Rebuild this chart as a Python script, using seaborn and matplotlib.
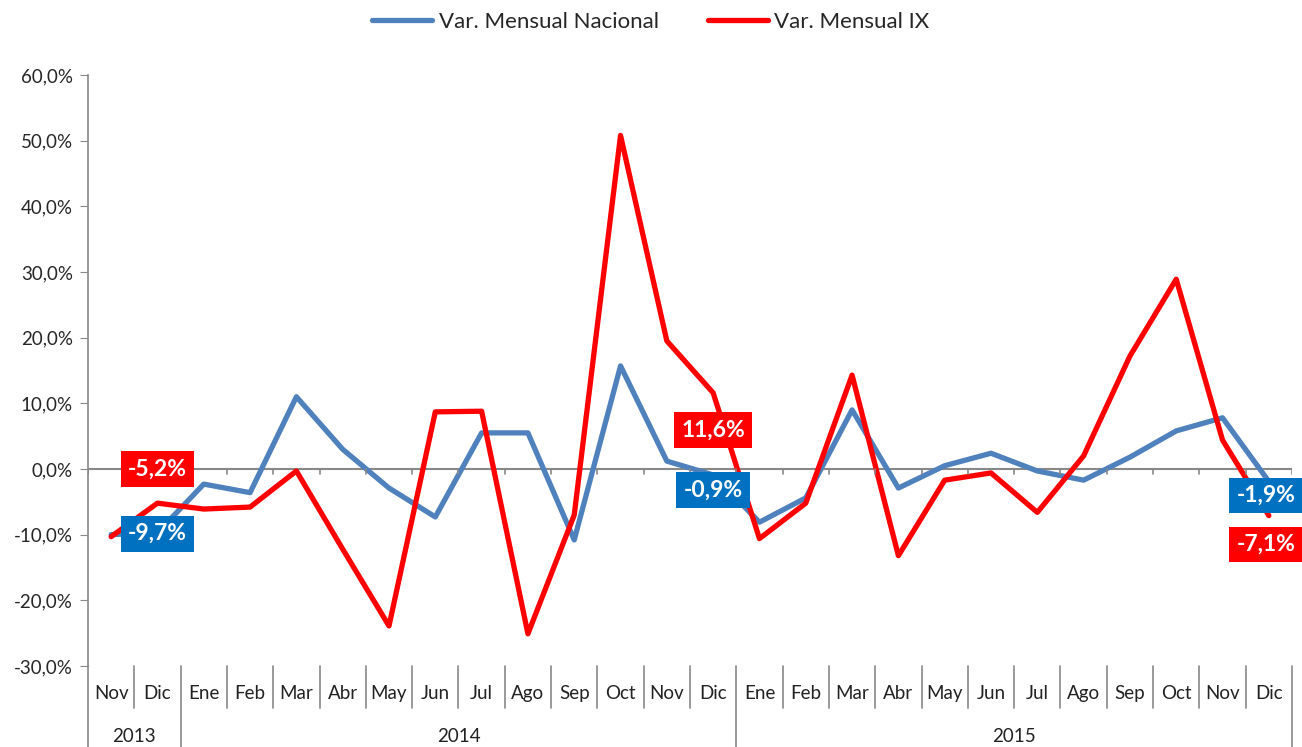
import numpy as np
import pandas as pd
import matplotlib
matplotlib.use("Agg")
import matplotlib.pyplot as plt
import matplotlib.transforms as mtransforms
from matplotlib.ticker import FuncFormatter, MultipleLocator
import seaborn as sns

# data (monthly variation, %)
months = ["Nov", "Dic",
          "Ene", "Feb", "Mar", "Abr", "May", "Jun", "Jul", "Ago", "Sep", "Oct", "Nov", "Dic",
          "Ene", "Feb", "Mar", "Abr", "May", "Jun", "Jul", "Ago", "Sep", "Oct", "Nov", "Dic"]
years = ["2013"] * 2 + ["2014"] * 12 + ["2015"] * 12
nacional = [-10.0, -9.7,
            -2.3, -3.6, 11.0, 3.0, -2.9, -7.3, 5.5, 5.5, -10.8, 15.7, 1.2, -0.9,
            -8.1, -4.4, 9.0, -2.9, 0.5, 2.4, -0.3, -1.7, 1.8, 5.8, 7.8, -1.9]
region_ix = [-10.3, -5.2,
             -6.1, -5.8, -0.3, -12.2, -23.9, 8.7, 8.8, -25.1, -7.0, 50.8, 19.5, 11.6,
             -10.6, -5.2, 14.3, -13.2, -1.7, -0.6, -6.6, 2.0, 17.2, 28.9, 4.4, -7.1]
series_names = ["Var. Mensual Nacional", "Var. Mensual IX"]

df = pd.DataFrame({"idx": np.arange(len(months)),
                   series_names[0]: nacional,
                   series_names[1]: region_ix})
long_df = df.melt(id_vars="idx", var_name="serie", value_name="valor")

sns.set_style("white")
plt.rcParams["font.family"] = ["Lato", "DejaVu Sans"]

fig = plt.figure(figsize=(13.02, 7.47), dpi=100)
ax = fig.add_axes([88 / 1302, 1 - 666 / 747, (1292 - 88) / 1302, (666 - 75) / 747])

blue = "#4F81BD"
red = "#FF0000"
sns.lineplot(data=long_df, x="idx", y="valor", hue="serie", palette=[blue, red],
             linewidth=3.8, ax=ax, legend=False)

ax.set_xlim(-0.5, len(months) - 0.5)
ax.set_ylim(-30, 60)
ax.yaxis.set_major_locator(MultipleLocator(10))
ax.yaxis.set_major_formatter(FuncFormatter(lambda v, p: f"{v:.1f}%".replace(".", ",")))
ax.tick_params(axis="y", labelsize=13.5, length=6, color="#888888", direction="out", left=True,
               pad=5)
ax.set_xticks([])
ax.set_xlabel("")
ax.set_ylabel("")
for s in ["top", "right", "bottom"]:
    ax.spines[s].set_visible(False)
ax.spines["left"].set_color("#888888")
ax.spines["left"].set_linewidth(1.2)

# zero axis with small ticks
ax.axhline(0, color="#888888", lw=1.5, zorder=1)
trans = mtransforms.blended_transform_factory(ax.transData, ax.transAxes)
zero_y = ax.transLimits.transform((0, 0))[1]
for b in np.arange(len(months) + 1) - 0.5:
    ax.plot([b, b], [zero_y, zero_y - 0.009], color="#888888", lw=1.2, transform=trans)

# category labels (two levels)
new_year = [i for i in range(1, len(years)) if years[i] != years[i - 1]]
for i, m in enumerate(months):
    ax.text(i, -0.0457, m, transform=trans, ha="center", va="center", fontsize=13.5, color="#222222")
for b in np.arange(1, len(months) + 1) - 0.5:
    bottom = -0.137 if (b + 0.5) in new_year or b == len(months) - 0.5 else -0.071
    ax.plot([b, b], [0, bottom], color="#888888", lw=1.2, transform=trans, clip_on=False)
ax.plot([-0.5, -0.5], [0, -0.137], color="#888888", lw=1.2, transform=trans, clip_on=False)
starts = [0] + new_year
ends = new_year + [len(years)]
for s, e in zip(starts, ends):
    ax.text((s + e - 1) / 2, -0.120, years[s], transform=trans, ha="center", va="center",
            fontsize=13.5, color="#222222")

# value labels at each December
label_idx = [1, 13, 25]
blue_off = [(0, -1), (0, -15), (-3, -14)]
red_off = [(0, 34), (0, -37), (-3, -29)]
for k, i in enumerate(label_idx):
    for vals, col, off in [(nacional, "#0070C0", blue_off[k]), (region_ix, red, red_off[k])]:
        ax.annotate(f"{vals[i]:.1f}%".replace(".", ","), xy=(i, vals[i]), xytext=off,
                    textcoords="offset pixels", ha="center", va="center",
                    fontsize=16.5, fontweight="bold", color="white", annotation_clip=False,
                    bbox=dict(boxstyle="square,pad=0.32", fc=col, ec="none"), zorder=5)

handles = [plt.Line2D([], [], color=blue, lw=3.8), plt.Line2D([], [], color=red, lw=3.8)]
fig.legend(handles, series_names, loc="center", bbox_to_anchor=(0.5, 1 - 22 / 747), ncol=2,
           frameon=False, fontsize=16, handlelength=2.7, handletextpad=0.3, columnspacing=2.2)

fig.savefig("out.png", dpi=100)
